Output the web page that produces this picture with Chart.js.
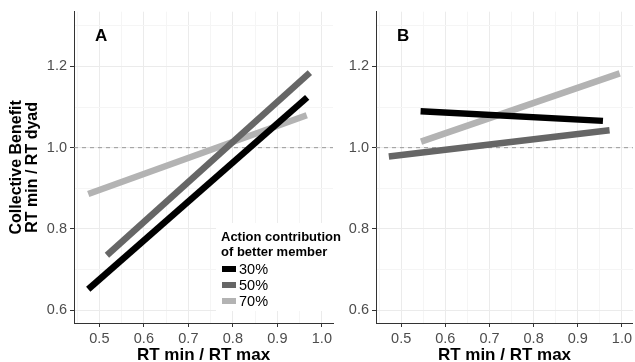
<!DOCTYPE html>
<html>
<head>
<meta charset="utf-8">
<script src="https://cdn.jsdelivr.net/npm/chart.js@4"></script>
<style>
  html, body { margin: 0; padding: 0; background: #fff; }
  #wrap { position: relative; width: 635px; height: 362px; overflow: hidden; }
  #chartA { position: absolute; left: 0; top: 0; z-index: 2; }
  #chartB { position: absolute; left: 335px; top: 0; z-index: 1; }
</style>
</head>
<body>
<div id="wrap">
  <canvas id="chartB" width="300" height="362"></canvas>
  <canvas id="chartA" width="350" height="362"></canvas>
</div>
<script>
// series (action contribution of better member)
const seriesLabels = ['30%', '50%', '70%'];
const seriesColors = ['#000000', '#666666', '#b3b3b3'];

// panel A: fitted line endpoints (x = RT min / RT max, y = collective benefit)
const aX30 = [0.475, 0.967], aY30 = [0.651, 1.124];
const aX50 = [0.517, 0.973], aY50 = [0.735, 1.185];
const aX70 = [0.475, 0.966], aY70 = [0.886, 1.080];

// panel B
const bX30 = [0.544, 0.957], bY30 = [1.090, 1.066];
const bX50 = [0.472, 0.972], bY50 = [0.978, 1.043];
const bX70 = [0.545, 0.995], bY70 = [1.015, 1.183];

// axes
const xTicks = [0.5, 0.6, 0.7, 0.8, 0.9, 1.0];
const xTickLabels = ['0.5', '0.6', '0.7', '0.8', '0.9', '1.0'];
const xMinor = [0.45, 0.55, 0.65, 0.75, 0.85, 0.95];
const yTicks = [0.6, 0.8, 1.0, 1.2];
const yTickLabels = ['0.6', '0.8', '1.0', '1.2'];
const yMinor = [0.7, 0.9, 1.1, 1.3];
const xRange = [0.443, 1.025];
const yRange = [0.568, 1.335];
const refValue = 1.0;

const tickFont = { family: 'Liberation Sans, Arial, sans-serif', size: 14.5 };
const boldFont = (size) => ({ family: 'Liberation Sans, Arial, sans-serif', size: size, weight: 'bold', lineHeight: 1 });

function toPoints(xs, ys) {
    return xs.map((x, i) => ({ x: x, y: ys[i] }));
}

function findIndex(list, v) {
    return list.findIndex(t => Math.abs(t - v) < 1e-6);
}

function axisOptions(major, labels, minor, range, extra) {
    return Object.assign({
        type: 'linear',
        min: range[0],
        max: range[1],
        afterBuildTicks: (scale) => {
            scale.ticks = major.concat(minor).sort((a, b) => a - b).map(v => ({ value: v }));
        },
        ticks: {
            autoSkip: false,
            maxRotation: 0,
            color: '#4d4d4d',
            font: tickFont,
            padding: 3,
            callback: (value) => {
                const i = findIndex(major, value);
                return i >= 0 ? labels[i] : '';
            }
        },
        grid: {
            color: (ctx) => findIndex(major, ctx.tick.value) >= 0 ? '#ebebeb' : '#f5f5f5',
            tickColor: (ctx) => findIndex(major, ctx.tick.value) >= 0 ? '#333333' : 'rgba(0,0,0,0)',
            tickLength: 4,
            lineWidth: 1
        },
        border: { display: true, color: '#333333', width: 1 }
    }, extra);
}

const refLinePlugin = {
    id: 'refLine',
    beforeDatasetsDraw(chart) {
        const { ctx, chartArea, scales } = chart;
        const y = scales.y.getPixelForValue(refValue);
        ctx.save();
        ctx.strokeStyle = '#999999';
        ctx.lineWidth = 1;
        ctx.setLineDash([4, 4]);
        ctx.beginPath();
        ctx.moveTo(chartArea.left, y);
        ctx.lineTo(chartArea.right, y);
        ctx.stroke();
        ctx.restore();
    }
};

const panelLabelPlugin = {
    id: 'panelLabel',
    afterDraw(chart, args, opts) {
        const { ctx, chartArea } = chart;
        ctx.save();
        ctx.fillStyle = '#000';
        ctx.font = 'bold 17px Liberation Sans, Arial, sans-serif';
        ctx.textBaseline = 'alphabetic';
        ctx.fillText(opts.text, chartArea.left + 21, chartArea.top + 29);
        ctx.restore();
    }
};

const legendPlugin = {
    id: 'shadeLegend',
    afterDraw(chart, args, opts) {
        if (!opts.show) return;
        const { ctx } = chart;
        ctx.save();
        ctx.fillStyle = '#ffffff';
        ctx.fillRect(216, 223, 132, 88);
        ctx.fillStyle = '#000';
        ctx.textBaseline = 'middle';
        ctx.font = 'bold 13px Liberation Sans, Arial, sans-serif';
        ctx.fillText('Action contribution', 221, 237);
        ctx.fillText('of better member', 221, 252);
        ctx.font = '14.5px Liberation Sans, Arial, sans-serif';
        seriesLabels.forEach((lab, i) => {
            const cy = 269 + i * 16;
            ctx.fillStyle = seriesColors[i];
            ctx.fillRect(222, cy - 3, 14, 6);
            ctx.fillStyle = '#000';
            ctx.fillText(lab, 239, cy + 1);
        });
        ctx.restore();
    }
};

function makeDatasets(lines) {
    return lines.map((pts, i) => ({
        label: seriesLabels[i],
        data: pts,
        showLine: true,
        borderColor: seriesColors[i],
        backgroundColor: seriesColors[i],
        borderWidth: 6.5,
        borderCapStyle: 'butt',
        pointRadius: 0,
        tension: 0
    }));
}

function makeChart(id, lines, panel, yAxisWidth, withTitle, padRight) {
    return new Chart(document.getElementById(id), {
        type: 'scatter',
        data: { datasets: makeDatasets(lines) },
        options: {
            responsive: false,
            animation: false,
            layout: { padding: { left: 0, right: padRight, top: 8, bottom: 0 } },
            plugins: {
                legend: { display: false },
                tooltip: { enabled: false },
                panelLabel: { text: panel },
                shadeLegend: { show: withTitle }
            },
            scales: {
                x: axisOptions(xTicks, xTickLabels, xMinor, xRange, {
                    afterFit: (scale) => { scale.height = 39; },
                    title: {
                        display: true,
                        text: 'RT min / RT max',
                        color: '#000',
                        font: boldFont(17),
                        padding: { top: 0, bottom: -2 }
                    }
                }),
                y: axisOptions(yTicks, yTickLabels, yMinor, yRange, {
                    afterFit: (scale) => { scale.width = yAxisWidth; },
                    title: {
                        display: withTitle,
                        text: ['Collective Benefit', 'RT min / RT dyad'],
                        color: '#000',
                        font: boldFont(16),
                        padding: { top: 9, bottom: 0 }
                    }
                })
            }
        },
        plugins: [refLinePlugin, panelLabelPlugin, legendPlugin]
    });
}

makeChart('chartA', [toPoints(aX30, aY30), toPoints(aX50, aY50), toPoints(aX70, aY70)], 'A', 74, true, 17);
makeChart('chartB', [toPoints(bX30, bY30), toPoints(bX50, bY50), toPoints(bX70, bY70)], 'B', 41, false, 0);
</script>
</body>
</html>
